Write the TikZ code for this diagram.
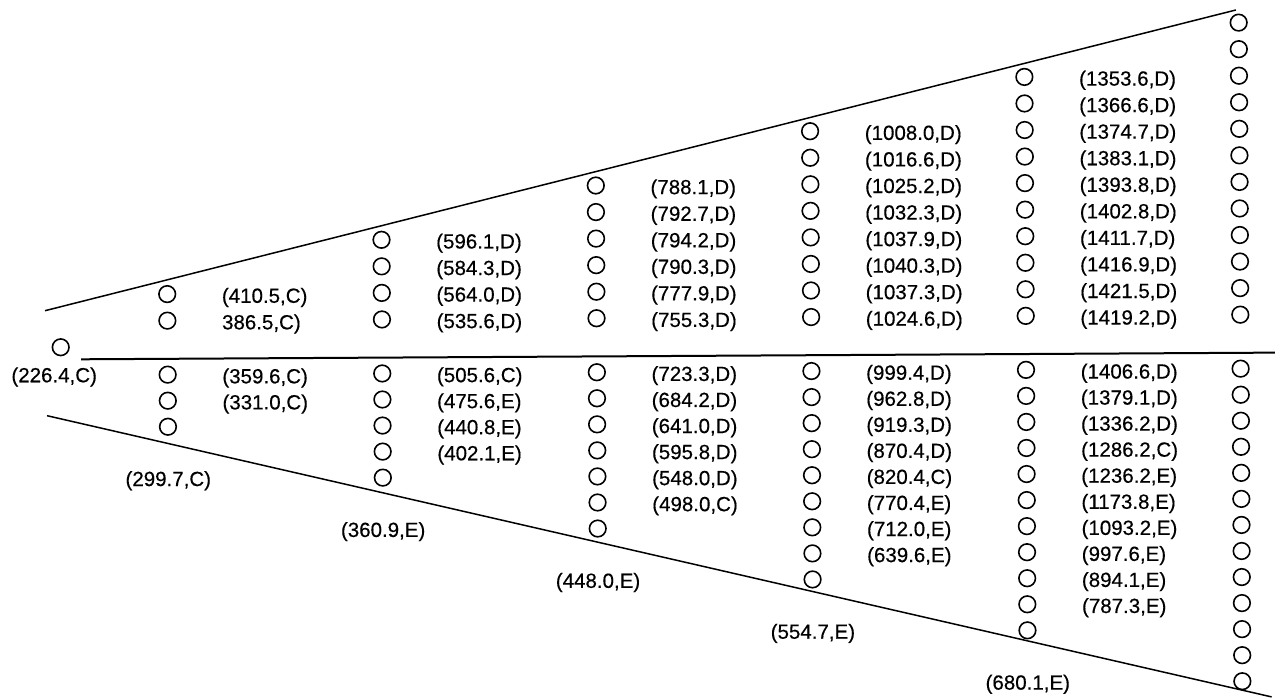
\documentclass[tikz,border=0pt]{standalone}
\usepackage{fontspec}
\setmainfont{Liberation Sans}[FakeBold=0.4]
\begin{document}
\begin{tikzpicture}[x=1pt,y=-1pt,
  ring/.style={circle,draw,line width=1.6pt,minimum size=16.6pt,inner sep=0pt},
  val/.style={anchor=base west,inner sep=0pt,font=\fontsize{20.5}{24}\selectfont},
  tiplab/.style={anchor=base,inner sep=0pt,font=\fontsize{20.5}{24}\selectfont},
  rim/.style={line width=1.5pt},
  axisline/.style={line width=2pt}]
\useasboundingbox (0,0) rectangle (1282,698);
% column centres, upper rows (counted upwards from the axis) and lower rows
\newcommand\colX[1]{(167.5+214.6*(#1-2))}
\newcommand\rowU[1]{(318-26.55*(#1))}
\newcommand\rowL[1]{(372+26.05*(#1))}
% values above the axis, listed top to bottom
\newcommand\upvals[2]{%
  \foreach \t [count=\i] in {#2} {%
    \node[val] (uv#1-\i) at ({\colX{#1}+54.5},{\rowU{2*(#1-1)-\i}+9}) {\t};}}
% values below the axis, listed top to bottom
\newcommand\lowvals[2]{%
  \foreach \t [count=\i] in {#2} {%
    \node[val] (lv#1-\i) at ({\colX{#1}+54.5},{\rowL{\i-1}+9}) {\t};}}
\begin{scope}[rotate around={0.32:(641,349)}]
  % boundary lines of the fan and the axis
  \coordinate (topA) at (45.2,307.4);
  \coordinate (topB) at (1237.9,13.3);
  \coordinate (axA) at (81,356.2);
  \coordinate (axB) at (1275,356.2);
  \coordinate (botA) at (46.6,412.4);
  \coordinate (botB) at (1269.8,700.5);
  \draw[rim] (topA) -- (topB);
  \draw[axisline] (axA) -- (axB);
  \draw[rim] (botA) -- (botB);

  % apex
  \node[ring] (apex) at (60.7,344) {};
  \node[tiplab] (apexlab) at (54,379) {(226.4,C)};

  % columns of rings
  \foreach \k in {2,...,7} {
    \pgfmathtruncatemacro\nu{2*(\k-1)}
    \pgfmathtruncatemacro\nl{2*\k-1}
    \foreach \j in {1,...,\nu}
      \node[ring] (u\k-\j) at ({\colX{\k}},{\rowU{\j-1}}) {};
    \foreach \j in {1,...,\nl}
      \node[ring] (l\k-\j) at ({\colX{\k}},{\rowL{\j-1}}) {};
  }

  % values
  \upvals{2}{{(410.5,C)},{386.5,C)}}
  \upvals{3}{{(596.1,D)},{(584.3,D)},{(564.0,D)},{(535.6,D)}}
  \upvals{4}{{(788.1,D)},{(792.7,D)},{(794.2,D)},{(790.3,D)},{(777.9,D)},{(755.3,D)}}
  \upvals{5}{{(1008.0,D)},{(1016.6,D)},{(1025.2,D)},{(1032.3,D)},{(1037.9,D)},{(1040.3,D)},{(1037.3,D)},{(1024.6,D)}}
  \upvals{6}{{(1353.6,D)},{(1366.6,D)},{(1374.7,D)},{(1383.1,D)},{(1393.8,D)},{(1402.8,D)},{(1411.7,D)},{(1416.9,D)},{(1421.5,D)},{(1419.2,D)}}

  \lowvals{2}{{(359.6,C)},{(331.0,C)}}
  \lowvals{3}{{(505.6,C)},{(475.6,E)},{(440.8,E)},{(402.1,E)}}
  \lowvals{4}{{(723.3,D)},{(684.2,D)},{(641.0,D)},{(595.8,D)},{(548.0,D)},{(498.0,C)}}
  \lowvals{5}{{(999.4,D)},{(962.8,D)},{(919.3,D)},{(870.4,D)},{(820.4,C)},{(770.4,E)},{(712.0,E)},{(639.6,E)}}
  \lowvals{6}{{(1406.6,D)},{(1379.1,D)},{(1336.2,D)},{(1286.2,C)},{(1236.2,E)},{(1173.8,E)},{(1093.2,E)},{(997.6,E)},{(894.1,E)},{(787.3,E)}}

  % values at the lower edge, below each column
  \foreach \k/\t in {2/{(299.7,C)},3/{(360.9,E)},4/{(448.0,E)},5/{(554.7,E)},6/{(680.1,E)}}
    \node[tiplab] (tip\k) at ({\colX{\k}},{\rowL{2*\k}+7.2}) {\t};
\end{scope}
\end{tikzpicture}
\end{document}
